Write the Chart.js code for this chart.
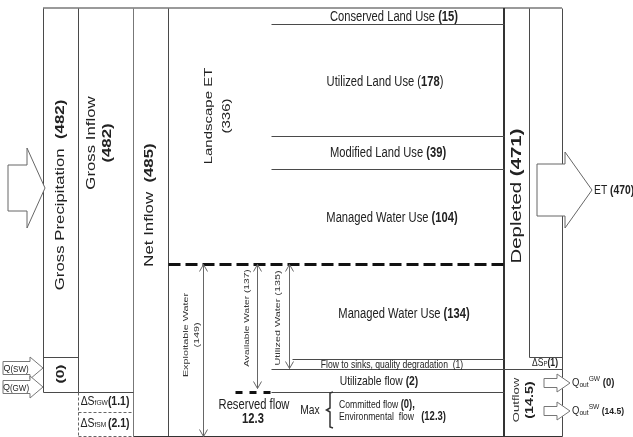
<!DOCTYPE html>
<html>
<head>
<meta charset="utf-8">
<script src="https://cdn.jsdelivr.net/npm/chart.js@4.4.1/dist/chart.umd.min.js"></script>
<style>
html,body{margin:0;padding:0;background:#fff;}
#wrap{width:633px;height:437px;position:relative;}
</style>
</head>
<body>
<div id="wrap"><canvas id="c" width="633" height="437"></canvas></div>
<script>
// ---------- DATA ----------
const inflowNames = ['Gross Precipitation', 'Gross Inflow', 'Net Inflow'];
const inflowValues = [482, 482, 485];
const sideInflowNames = ['SW', 'GW'];
const sideInflowValue = [0];
const storageNames = ['fGW', 'fSM'];
const storageValues = [1.1, 2.1];
const etNames = ['Landscape ET'];
const etValues = [336];
const landUseNames = ['Conserved Land Use', 'Utilized Land Use', 'Modified Land Use', 'Managed Water Use'];
const landUseValues = [15, 178, 39, 104];
const waterNames = ['Exploitable Water', 'Available Water', 'Utilized Water'];
const waterValues = [149, 137, 135];
const flowNames = ['Managed Water Use', 'Flow to sinks, quality degradation', 'Utilizable flow', 'Reserved flow'];
const flowValues = [134, 1, 2, 12.3];
const reservedNames = ['Committed flow', 'Environmental  flow'];
const reservedValues = [0, 12.3];
const outNames = ['Depleted', 'ET', 'Outflow'];
const outValues = [471, 470, 14.5];
const deltaSpValue = [1];
const qoutNames = ['GW', 'SW'];
const qoutValues = [0, 14.5];

// ---------- LAYOUT (diagram units on hidden linear scales) ----------
const L = {
  top: 8, bottom: 436,
  colX: [43, 78, 133, 168, 271, 504, 529, 562],
  zeroBoxTop: 357, inflowBottom: 392, storageMid: 412,
  luLines: [24, 136, 169], dashY: 264,
  sinksY: 359, utilTop: 369, utilBottom: 392, spTop: 357,
  luText: [[394, 17], [385, 82], [388, 153], [392, 218]]
};

function fmt(v){ return String(v); }

const diagram = {
  id: 'diagram',
  afterDraw(chart) {
    const ctx = chart.ctx;
    const xs = chart.scales.x, ys = chart.scales.y;
    const X = v => xs.getPixelForValue(v);
    const Y = v => ys.getPixelForValue(v);
    const FONT = 'Arimo, "Liberation Sans", Arial, sans-serif';

    function line(x1, y1, x2, y2, o = {}) {
      const w = o.w || 1, off = (w % 2) * 0.5;
      ctx.save();
      ctx.strokeStyle = o.color || '#4a4a4a';
      ctx.lineWidth = w;
      ctx.setLineDash(o.dash || []);
      ctx.beginPath();
      ctx.moveTo(Math.round(X(x1)) + off, Math.round(Y(y1)) + off);
      ctx.lineTo(Math.round(X(x2)) + off, Math.round(Y(y2)) + off);
      ctx.stroke();
      ctx.restore();
    }
    // rich text: parts = [{t, size, bold, italic, dy}]
    function rich(parts, x, y, o = {}) {
      ctx.save();
      ctx.translate(X(x), Y(y));
      if (o.rot) {
        ctx.rotate(o.rot);
        ctx.scale(o.sx || 1.2, o.sy || 0.9);
      } else {
        ctx.scale(o.sx || 0.86, o.sy || 1.1);
      }
      ctx.fillStyle = o.color || '#222';
      ctx.textBaseline = 'middle';
      let total = 0;
      const fonts = parts.map(p => (p.italic ? 'italic ' : '') + (p.bold ? 'bold ' : '') + (p.size || 12) + 'px ' + FONT);
      const widths = parts.map((p, i) => { ctx.font = fonts[i]; return ctx.measureText(p.t).width; });
      widths.forEach(w => total += w);
      let cx = o.align === 'left' ? 0 : -total / 2;
      parts.forEach((p, i) => {
        ctx.font = fonts[i];
        ctx.textAlign = 'left';
        ctx.fillText(p.t, cx, p.dy || 0);
        cx += widths[i];
      });
      ctx.restore();
    }
    function N(t, s, extra) { return Object.assign({ t, size: s }, extra || {}); }
    function B(t, s, extra) { return Object.assign({ t, size: s, bold: true }, extra || {}); }
    const UP = -Math.PI / 2;

    function blockArrow(x0, yc, bodyLen, bodyH, headLen, headH, o = {}) {
      ctx.save();
      ctx.beginPath();
      const p = [
        [x0, yc - bodyH / 2], [x0 + bodyLen, yc - bodyH / 2], [x0 + bodyLen, yc - headH / 2],
        [x0 + bodyLen + headLen, yc], [x0 + bodyLen, yc + headH / 2], [x0 + bodyLen, yc + bodyH / 2],
        [x0, yc + bodyH / 2]
      ];
      p.forEach((q, i) => i ? ctx.lineTo(X(q[0]), Y(q[1])) : ctx.moveTo(X(q[0]), Y(q[1])));
      ctx.closePath();
      ctx.fillStyle = o.fill || '#fff';
      ctx.fill();
      ctx.strokeStyle = o.color || '#666';
      ctx.lineWidth = 1;
      ctx.stroke();
      ctx.restore();
    }
    function vArrow(x, y1, y2) {
      line(x, y1, x, y2, { color: '#666' });
      [[y1, 1], [y2, -1]].forEach(([yy, d]) => {
        line(x, yy, x - 4, yy + 7 * d, { color: '#666' });
        line(x, yy, x + 4, yy + 7 * d, { color: '#666' });
      });
    }

    const c = L.colX;
    // --- frame lines ---
    line(c[0], L.top, c[7], L.top, { color: '#9a9a9a', w: 2 });
    line(c[0], L.top, c[0], L.inflowBottom);
    line(c[1], L.top, c[1], L.inflowBottom);
    line(c[2], L.top, c[2], L.bottom, { color: '#777' });
    line(c[3], L.top, c[3], L.bottom);
    line(c[5], L.top, c[5], L.bottom, { color: '#333', w: 2 });
    line(c[6], L.top, c[6], L.spTop);
    line(c[7], L.top, c[7], L.bottom);
    line(c[2], L.bottom, c[7], L.bottom, { color: '#333' });
    // inflow small box and storage boxes
    line(c[0], L.zeroBoxTop, c[1], L.zeroBoxTop);
    line(c[0], L.inflowBottom, c[2], L.inflowBottom);
    line(c[1], L.inflowBottom, c[1], L.bottom, { dash: [3, 2], color: '#666' });
    line(c[1], L.storageMid, c[2], L.storageMid, { dash: [3, 2], color: '#666' });
    line(c[1], L.bottom, c[2], L.bottom, { dash: [3, 2], color: '#666' });
    // land use lines
    L.luLines.forEach(y => line(c[4], y, c[5], y));
    // exploitable dashed line
    line(c[3], L.dashY, c[5], L.dashY, { color: '#111', w: 3, dash: [12, 5] });
    // flows
    line(292, L.sinksY, c[5], L.sinksY);
    line(c[4], L.utilTop, c[7], L.utilTop);
    line(c[4], L.utilBottom, c[5], L.utilBottom);
    line(235, L.utilBottom, c[4], L.utilBottom, { color: '#111', w: 3, dash: [7, 7] });
    // ΔSp box
    line(c[6], L.spTop, c[7], L.spTop);
    // vertical double arrows
    vArrow(203, L.dashY, L.bottom);
    vArrow(257, L.dashY, 388);
    vArrow(289, L.dashY, 368);

    // --- big arrows ---
    blockArrow(8, 188, 19, 46, 18, 80);
    blockArrow(537, 190, 28, 52, 27, 76);
    blockArrow(3, 368, 27, 13, 13, 22, { color: '#777' });
    blockArrow(3, 387, 27, 13, 13, 22, { color: '#777' });
    blockArrow(544, 383, 13, 9, 13, 18, { color: '#777' });
    blockArrow(544, 411, 13, 9, 13, 18, { color: '#777' });

    // --- texts ---
    rich([N(inflowNames[0] + '  ', 14), B('(' + fmt(inflowValues[0]) + ')', 14)], 61, 195, { rot: UP });
    rich([N(inflowNames[1], 14)], 92, 143, { rot: UP });
    rich([B('(' + fmt(inflowValues[1]) + ')', 14)], 108, 143, { rot: UP });
    rich([N(inflowNames[2] + '  ', 14), B('(' + fmt(inflowValues[2]) + ')', 14)], 150, 205, { rot: UP });
    rich([B('(' + fmt(sideInflowValue[0]) + ')', 13)], 61, 374, { rot: UP });
    rich([N('Q', 9), N('(' + sideInflowNames[0] + ')', 8, { dy: 1 })], 16, 368, { sx: 1 });
    rich([N('Q', 9), N('(' + sideInflowNames[1] + ')', 8, { dy: 1 })], 16, 387, { sx: 1 });
    rich([N('ΔS', 11), N(storageNames[0].toUpperCase().replace('F', 'f'), 7, { dy: 1 }), B('(' + fmt(storageValues[0]) + ')', 11)], 105, 402, { sx: 0.95 });
    rich([N('ΔS', 11), N(storageNames[1].toUpperCase().replace('F', 'f') + ' ', 7, { dy: 1 }), B('(' + fmt(storageValues[1]) + ')', 11)], 105, 424, { sx: 0.95 });

    rich([N(etNames[0], 12.5)], 209, 116, { rot: UP });
    rich([N('(' + fmt(etValues[0]) + ')', 12.5)], 227, 116, { rot: UP });

    landUseNames.forEach((n, i) => {
      const [tx, ty] = L.luText[i];
      if (i === 1) rich([N(n + ' (', 13), B(fmt(landUseValues[i]), 13), N(')', 13)], tx, ty);
      else rich([N(n + ' ', 13), B('(' + fmt(landUseValues[i]) + ')', 13)], tx, ty);
    });

    rich([N(waterNames[0], 9)], 186, 335, { rot: UP, color: '#333' });
    rich([N('(' + fmt(waterValues[0]) + ')', 9)], 197, 335, { rot: UP, color: '#333' });
    rich([N(waterNames[1] + ' (' + fmt(waterValues[1]) + ')', 8.5)], 247, 318, { rot: UP, color: '#333' });
    rich([N(waterNames[2] + ' (' + fmt(waterValues[2]) + ')', 9)], 278, 318, { rot: UP, color: '#333' });

    rich([N(flowNames[0] + ' ', 13), B('(' + fmt(flowValues[0]) + ')', 13)], 404, 314);
    rich([N(flowNames[1] + '  (' + fmt(flowValues[1]) + ')', 10)], 392, 365);
    rich([N(flowNames[2] + ' ', 12), B('(' + fmt(flowValues[2]) + ')', 12)], 379, 381);
    rich([N(flowNames[3], 13)], 254, 405);
    rich([B(fmt(flowValues[3]), 13)], 253, 419);
    rich([N('Max', 12)], 310, 410);
    // brace
    ctx.save();
    ctx.strokeStyle = '#333'; ctx.lineWidth = 1.5;
    ctx.beginPath();
    ctx.moveTo(X(333), Y(392)); ctx.lineTo(X(330), Y(393)); ctx.lineTo(X(330), Y(408));
    ctx.lineTo(X(326.5), Y(410)); ctx.lineTo(X(330), Y(412)); ctx.lineTo(X(330), Y(427)); ctx.lineTo(X(333), Y(428));
    ctx.stroke();
    ctx.restore();
    rich([N(reservedNames[0] + ' ', 10), B('(' + fmt(reservedValues[0]) + '),', 11)], 339, 405, { align: 'left' });
    rich([N(reservedNames[1] + '   ', 10), B('(' + fmt(reservedValues[1]) + ')', 11)], 339, 417, { align: 'left' });

    rich([N(outNames[0] + ' ', 17), B('(' + fmt(outValues[0]) + ')', 17)], 517, 196, { rot: UP, sx: 1.2, sy: 0.9 });
    rich([N(outNames[1] + ' ', 12), B('(' + fmt(outValues[1]) + ')', 12)], 594, 190, { align: 'left' });
    rich([N('ΔS', 10), N('P', 7, { dy: 1 }), B('(' + fmt(deltaSpValue[0]) + ')', 10)], 545, 363);
    rich([N(outNames[2], 11)], 516, 400, { rot: UP, color: '#333' });
    rich([B('(' + fmt(outValues[2]) + ')', 12)], 530, 400, { rot: UP });
    rich([N('Q', 10), N('out', 7, { dy: 2 }), N(qoutNames[0], 7, { dy: -4 }), B(' (' + fmt(qoutValues[0]) + ')', 10)], 572, 383, { align: 'left', sx: 0.95 });
    rich([N('Q', 10), N('out', 7, { dy: 2 }), N(qoutNames[1], 7, { dy: -4 }), B(' (' + fmt(qoutValues[1]) + ')', 9)], 572, 411, { align: 'left', sx: 0.95 });
  }
};

new Chart(document.getElementById('c'), {
  type: 'scatter',
  data: { datasets: [{ data: [], pointRadius: 0 }] },
  options: {
    responsive: false,
    animation: false,
    layout: { padding: 0 },
    plugins: { legend: { display: false }, tooltip: { enabled: false } },
    scales: {
      x: { type: 'linear', min: 0, max: 633, display: false },
      y: { type: 'linear', min: 0, max: 437, reverse: true, display: false }
    }
  },
  plugins: [diagram]
});
</script>
</body>
</html>
